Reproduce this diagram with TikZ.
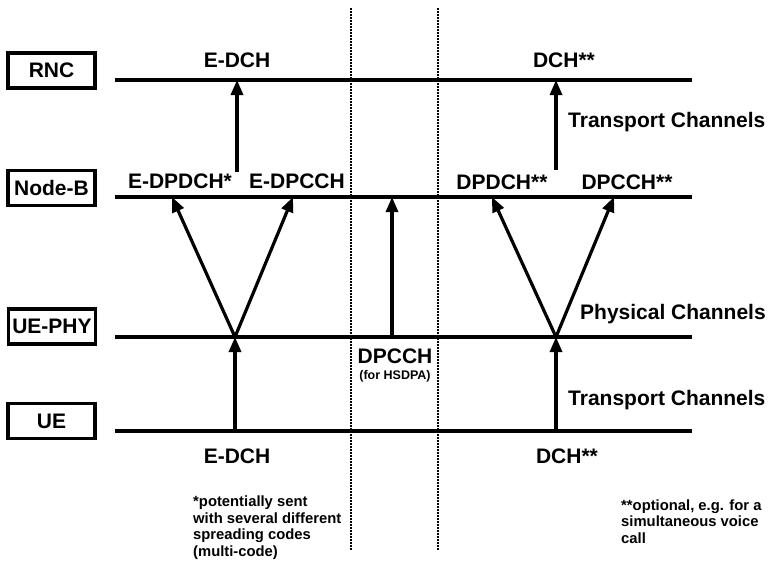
\documentclass[tikz,border=0pt]{standalone}
\usepackage{fontspec}
\setmainfont{Liberation Sans}
\usetikzlibrary{arrows.meta,positioning}

\tikzset{
	layer/.style={line width=3.2pt},
	chan/.style={line width=3.2pt,-{Triangle[length=15pt,width=12pt]}},
	sep/.style={line width=2pt,dash pattern=on 1.6pt off 1.4pt},
	entity/.style={draw,line width=3.2pt,minimum width=87pt,minimum height=35pt,inner sep=0pt,
		font=\fontsize{21}{25}\selectfont\bfseries},
	lbl/.style={font=\fontsize{21}{25}\selectfont\bfseries,inner sep=0pt,anchor=base},
	small/.style={font=\fontsize{12.5}{15}\selectfont\bfseries,inner sep=0pt},
	note/.style={font=\fontsize{14.8}{16.4}\selectfont\bfseries,align=left,inner sep=0pt,anchor=base west},
}

\begin{document}
\begin{tikzpicture}[x=1pt,y=-1pt]
	\useasboundingbox (0,0) rectangle (771,565);
	% entities on the left
	\node[entity] (rncbox)   at (51.5,70.5) {RNC};
	\node[entity] (nodebbox) at (51.5,188)  {Node-B};
	\node[entity] (uephybox) at (52,326.5)  {UE-PHY};
	\node[entity] (uebox)    at (51.5,421)  {UE};
	% one horizontal line per layer
	\foreach \name/\y in {rnc/80,nodeb/197,phy/337,ue/431}{
		\coordinate (\name-l) at (115,\y);
		\coordinate (\name-r) at (692,\y);
		\draw[layer] (\name-l) -- (\name-r);
	}
	% dotted separators
	\coordinate (sepa-t) at (351,8);
	\coordinate (sepa-b) at (351,550);
	\coordinate (sepb-t) at (438,8);
	\coordinate (sepb-b) at (438,550);
	\draw[sep] (sepa-t) -- (sepa-b);
	\draw[sep] (sepb-t) -- (sepb-b);
	% E-DCH side
	\coordinate (edch-ue)  at (235,431);
	\coordinate (edch-phy) at (235,337);
	\coordinate (edpdch)   at (172,197);
	\coordinate (edpcch)   at (293,197);
	\coordinate (edch-nb)  at (237,172);
	\coordinate (edch-rnc) at (237,80);
	\draw[chan] (edch-ue) -- (edch-phy);
	\draw[chan] (edch-phy) -- (edpdch);
	\draw[chan] (edch-phy) -- (edpcch);
	\draw[chan] (edch-nb) -- (edch-rnc);
	% DPCCH for HSDPA
	\coordinate (hs-phy) at (392,337);
	\coordinate (hs-nb)  at (392,197);
	\draw[chan] (hs-phy) -- (hs-nb);
	% DCH side
	\coordinate (dch-ue)  at (556,431);
	\coordinate (dch-phy) at (556,337);
	\coordinate (dpdch)   at (492,197);
	\coordinate (dpcch)   at (614,197);
	\coordinate (dch-nb)  at (556,170);
	\coordinate (dch-rnc) at (556,80);
	\draw[chan] (dch-ue) -- (dch-phy);
	\draw[chan] (dch-phy) -- (dpdch);
	\draw[chan] (dch-phy) -- (dpcch);
	\draw[chan] (dch-nb) -- (dch-rnc);
	% channel names
	\node[lbl] (edchtop)  at (237,67)  {E-DCH};
	\node[lbl] (dchtop)   at (564,67)  {DCH**};
	\node[lbl] (edpdchl)  at (180,188) {E-DPDCH*};
	\node[lbl] (edpcchl)  at (297,188) {E-DPCCH};
	\node[lbl] (dpdchl)   at (502,189) {DPDCH**};
	\node[lbl] (dpcchl)   at (627,189) {DPCCH**};
	\node[lbl] (hsl)      at (395,363) {DPCCH};
	\node[small,below=7pt of hsl] (hsnote) {(for HSDPA)};
	\node[lbl] (edchbot)  at (237,463) {E-DCH};
	\node[lbl] (dchbot)   at (567,463) {DCH**};
	% channel kinds
	\node[lbl,anchor=base west] (trtop) at (568,127) {Transport Channels};
	\node[lbl,anchor=base west] (phys)  at (580,319) {Physical Channels};
	\node[lbl,anchor=base west] (trbot) at (568,405) {Transport Channels};
	% footnotes (base is the last line)
	\node[note] (fn1) at (193,556) {*potentially sent\\with several different\\spreading codes\\(multi-code)};
	\node[note] (fn2) at (621,543) {**optional, e.g. for a\\simultaneous voice\\call};
\end{tikzpicture}
\end{document}
